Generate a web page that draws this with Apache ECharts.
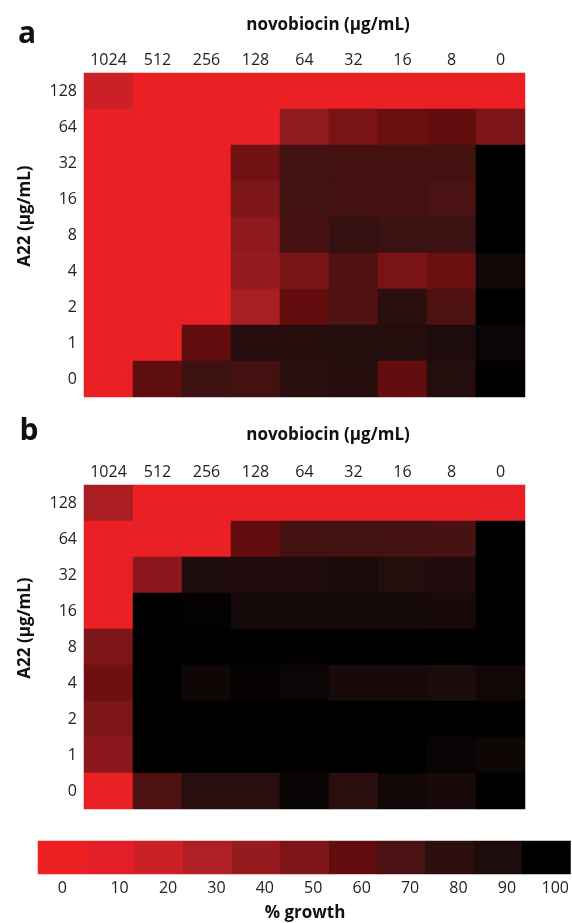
<!DOCTYPE html>
<html>
<head>
<meta charset="utf-8">
<script src="https://cdn.jsdelivr.net/npm/echarts@6/dist/echarts.min.js"></script>
<style>html,body{margin:0;padding:0;background:#fff}</style>
</head>
<body>
<div id="main" style="width:572px;height:923px;"></div>
<script>
  var novobiocin = ['1024', '512', '256', '128', '64', '32', '16', '8', '0'];
  var a22 = ['128', '64', '32', '16', '8', '4', '2', '1', '0'];

  // % growth, rows top (128) to bottom (0), columns 1024 -> 0
  var growthA = [
    [20, 2, 2, 2, 2, 2, 2, 2, 2],
    [2, 4, 4, 2, 42, 52, 58, 60, 50],
    [3, 3, 3, 55, 73, 72, 72, 72, 100],
    [3, 3, 3, 50, 73, 72, 72, 70, 100],
    [3, 3, 3, 43, 71, 78, 75, 75, 100],
    [3, 3, 3, 40, 52, 68, 52, 58, 94],
    [3, 3, 3, 33, 60, 68, 82, 69, 100],
    [3, 3, 60, 85, 85, 87, 86, 90, 96],
    [3, 62, 75, 72, 82, 85, 60, 86, 100]
  ];
  var growthB = [
    [32, 2, 2, 2, 2, 2, 2, 2, 5],
    [2, 4, 4, 60, 72, 73, 72, 71, 100],
    [2, 45, 90, 89, 89, 91, 86, 89, 100],
    [2, 100, 99, 93, 93, 93, 93, 92, 100],
    [50, 100, 100, 100, 100, 100, 100, 100, 100],
    [56, 100, 95, 98, 96, 92, 92, 91, 94],
    [50, 100, 100, 100, 100, 100, 100, 100, 100],
    [45, 100, 100, 100, 100, 100, 100, 97, 95],
    [2, 69, 84, 84, 97, 82, 94, 92, 100]
  ];

  var scaleTicks = ['0', '10', '20', '30', '40', '50', '60', '70', '80', '90', '100'];
  var scaleValues = [0, 10, 20, 30, 40, 50, 60, 70, 80, 90, 100];
  var palette = ['#ED2024', '#E21F26', '#CB2026', '#AF1F24', '#961B1F', '#7E1518',
                 '#640D0E', '#4A1212', '#2E0F0F', '#1E0C0C', '#000000'];

  var font = '"Open Sans", "Noto Sans", sans-serif';

  function cells(rows) {
    var out = [];
    rows.forEach(function (row, r) {
      row.forEach(function (v, c) { out.push([c, r, v]); });
    });
    return out;
  }

  function topAxis(gi) {
    return {
      gridIndex: gi, type: 'category', data: novobiocin, position: 'top',
      axisLine: {show: false}, axisTick: {show: false}, splitLine: {show: false},
      axisLabel: {fontSize: 16, color: '#222', fontFamily: font, margin: 5}
    };
  }
  function leftAxis(gi) {
    return {
      gridIndex: gi, type: 'category', data: a22, inverse: true,
      axisLine: {show: false}, axisTick: {show: false}, splitLine: {show: false},
      axisLabel: {fontSize: 16, color: '#222', fontFamily: font, margin: 7}
    };
  }

  function label(text, x, y, size, rot) {
    return {
      type: 'text', x: x, y: y, rotation: rot || 0,
      style: {text: text, align: 'center', verticalAlign: 'middle',
              font: 'bold ' + size + 'px ' + font, fill: '#111'}
    };
  }

  var myChart = echarts.init(document.getElementById('main'));
  var option = {
    animation: false,
    backgroundColor: '#fff',
    grid: [
      {left: 84, top: 73, width: 441, height: 324},
      {left: 84, top: 485, width: 441, height: 324},
      {left: 38, top: 841, width: 533, height: 33}
    ],
    xAxis: [
      topAxis(0),
      topAxis(1),
      {
        gridIndex: 2, type: 'category', data: scaleTicks,
        axisLine: {show: false}, axisTick: {show: false},
        axisLabel: {
          interval: 0, hideOverlap: false,
          fontSize: 16, color: '#222', fontFamily: font, margin: 6,
          formatter: function (v) { return v === '0' ? '{f|0}' : '{o|' + v + '}'; },
          rich: {
            f: {fontSize: 16, color: '#222', fontFamily: font},
            o: {fontSize: 16, color: '#222', fontFamily: font, padding: [0, 0, 0, 18]}
          }
        }
      }
    ],
    yAxis: [
      leftAxis(0),
      leftAxis(1),
      {gridIndex: 2, type: 'category', data: ['g'], show: false}
    ],
    visualMap: {
      type: 'continuous', show: false, min: 0, max: 100, dimension: 2,
      seriesIndex: [0, 1, 2],
      inRange: {color: palette}
    },
    graphic: [
      label('a', 27, 34, 30),
      label('novobiocin (µg/mL)', 328, 25, 17),
      label('A22 (µg/mL)', 25, 216, 17, Math.PI / 2),
      label('b', 29, 431, 30),
      label('novobiocin (µg/mL)', 328, 435, 17),
      label('A22 (µg/mL)', 25, 628, 17, Math.PI / 2),
      label('% growth', 305, 913, 17)
    ],
    series: [
      {type: 'heatmap', xAxisIndex: 0, yAxisIndex: 0, data: cells(growthA)},
      {type: 'heatmap', xAxisIndex: 1, yAxisIndex: 1, data: cells(growthB)},
      {
        type: 'heatmap', xAxisIndex: 2, yAxisIndex: 2,
        data: scaleValues.map(function (v, i) { return [i, 0, v]; })
      }
    ]
  };
  myChart.setOption(option);
</script>
</body>
</html>
